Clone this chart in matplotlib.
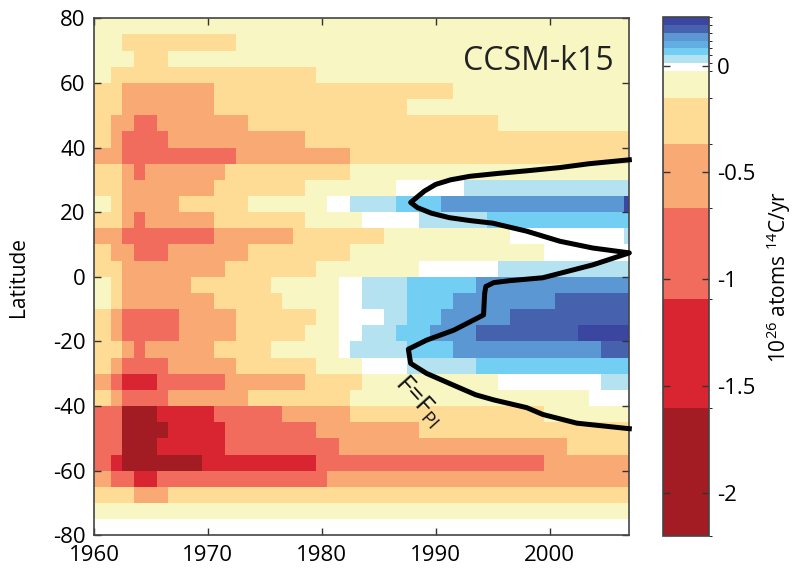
import numpy as np
import matplotlib
matplotlib.use('Agg')
import matplotlib.pyplot as plt
from matplotlib.colors import ListedColormap, BoundaryNorm

plt.rcParams['font.family'] = ['Open Sans', 'DejaVu Sans']
plt.rcParams['axes.unicode_minus'] = False
plt.rcParams['mathtext.fontset'] = 'custom'
plt.rcParams['mathtext.rm'] = 'Open Sans'
plt.rcParams['mathtext.it'] = 'Open Sans:italic'

# columns are years, rows are 5 degree latitude bands (north to south)
years = np.arange(1961, 2008)
lat_edges = np.arange(80, -81, -5)

# flux classes: dark red ... white ... darkest blue
level_codes = 'DRSOLYWbckmdn'
level_bounds = [-2.2, -1.6, -1.09, -0.665, -0.365, -0.153, -0.026,
                0.012, 0.051, 0.082, 0.113, 0.152, 0.191, 0.227]
level_colors = ['#a31b23', '#d92532', '#f26c5e', '#f9a973', '#fedc95',
                '#f8f6c2', '#ffffff', '#b4e2f0', '#72cef3', '#62aee2',
                '#5b97d2', '#4662ae', '#3b46a0']

# run-length coded class per year, one string per latitude band (80N first)
rows = [
    "Y47",
    "Y2 L10 Y35",
    "Y3 L3 Y41",
    "Y1 L18 Y28",
    "L2 O8 L21 Y16",
    "L2 O8 L17 Y20",
    "L1 O2 S2 O8 L22 Y12",
    "L1 O1 S4 O12 L29",
    "O2 S10 O10 L25",
    "L2 O1 S1 O7 L11 Y25",
    "L2 O8 L8 Y8 W6 b15",
    "Y1 L1 O5 L6 Y7 W2 b4 c4 m16 n1",
    "L2 O1 S1 O6 L8 Y5 W5 b6 c13",
    "O2 S8 O7 L8 Y11 W10 b1",
    "L1 O2 S3 O7 L9 Y17 W8",
    "L2 O9 L8 Y9 W7 b12",
    "Y1 L1 O6 L7 Y6 W2 b4 c6 m14",
    "Y1 L1 O8 L6 Y5 W2 b4 c4 m9 d7",
    "L1 O1 S5 O5 L7 Y2 W4 b2 c3 m6 d11",
    "L1 O1 S5 O5 L6 Y3 W2 b3 c3 m4 d9 n5",
    "L2 O1 S1 O6 L5 Y6 W1 b5 c4 m13 d3",
    "L1 O1 S4 O6 L7 Y4 W4 b6 c14",
    "O1 S1 R3 S6 O7 L5 Y12 W9 b3",
    "L1 O1 S4 O7 L9 Y21 W4",
    "S2 D3 R5 S6 O6 L17 Y8",
    "S2 D4 R5 S8 O9 L19",
    "S2 D3 R6 S10 O20 L6",
    "S1 R1 D7 R10 S20 O8",
    "O1 S2 R2 S15 O27",
    "L3 O3 L41",
    "Y47",
    "W47",
]

# F = F_PI line
contour_year = [2007.0, 2003.5, 2000.9, 1998.0, 1995.5, 1993.0, 1991.3, 1990.0,
                1989.0, 1987.8, 1988.4, 1989.6, 1991.2, 1993.0, 1995.0, 1998.0,
                2000.9, 2003.8, 2007.0, 2003.8, 1999.4, 1996.5, 1995.1, 1994.4,
                1994.3, 1994.2, 1991.6, 1989.2, 1987.6, 1987.8, 1989.2, 1991.6,
                1993.5, 1995.1, 1998.0, 1999.4, 2002.4, 2006.7, 2007.0]
contour_lat = [36.2, 35.0, 33.8, 32.8, 32.0, 31.1, 30.0, 28.6,
               26.5, 23.0, 21.4, 19.7, 18.3, 17.4, 16.6, 14.1,
               11.0, 8.9, 7.4, 3.7, -0.3, -1.2, -1.8, -3.0,
               -5.1, -11.8, -16.5, -19.6, -22.4, -26.8, -29.9, -33.6,
               -36.5, -38.1, -40.5, -42.6, -45.3, -46.9, -47.0]

mid_values = [(a + b) / 2 for a, b in zip(level_bounds[:-1], level_bounds[1:])]
grid = []
for r in rows:
    line = []
    for tok in r.split():
        line += [mid_values[level_codes.index(tok[0])]] * int(tok[1:])
    assert len(line) == len(years)
    grid.append(line)
grid = np.array(grid)

x_edges = np.append(years - 0.5, years[-1] + 0.5)
x_edges[0] = 1960

cmap = ListedColormap(level_colors)
norm = BoundaryNorm(level_bounds, cmap.N)

fig = plt.figure(figsize=(7.92, 5.71), dpi=100)
ax = fig.add_axes([0.1187, 0.0625, 0.6759, 0.9055])
mesh = ax.pcolormesh(x_edges, lat_edges, grid, cmap=cmap, norm=norm)
ax.plot(contour_year, contour_lat, color='black', lw=3.6, solid_joinstyle='round',
        clip_on=False, zorder=3)

ax.set_xlim(1960, 2007)
ax.set_ylim(-80, 80)
ax.set_xticks([1960, 1970, 1980, 1990, 2000])
ax.set_yticks(np.arange(-80, 81, 20))
ax.tick_params(direction='in', top=True, right=True, length=5, width=1,
               color='#333333', labelsize=16)
ax.tick_params(axis='x', pad=7)
ax.tick_params(axis='y', pad=6)
for s in ax.spines.values():
    s.set_color('#444444')
    s.set_linewidth(1.2)
ax.set_ylabel('Latitude', fontsize=15, labelpad=17)

ax.text(0.97, 0.917, 'CCSM-k15', transform=ax.transAxes, ha='right', va='center',
        fontsize=23, color='#222222')
ax.text(1988.5, -38.6, r'F=F$_{\mathrm{PI}}$', rotation=-48, ha='center', va='center',
        fontsize=19, color='#111111', rotation_mode='anchor')

cax = fig.add_axes([0.8371, 0.0613, 0.0581, 0.9089])
cb = fig.colorbar(mesh, cax=cax, boundaries=level_bounds, spacing='proportional',
                  ticks=[0, -0.5, -1, -1.5, -2])
cb.ax.set_yticklabels(['0', '-0.5', '-1', '-1.5', '-2'])
cb.outline.set_edgecolor('#444444')
cb.outline.set_linewidth(1.2)
cax.tick_params(direction='in', left=True, right=True, length=5, width=1,
                color='#333333', labelsize=16, pad=6)
cb.set_label(r'10$^{26}$ atoms $^{14}$C/yr', fontsize=15, labelpad=6)

fig.savefig('out.png', dpi=100)
